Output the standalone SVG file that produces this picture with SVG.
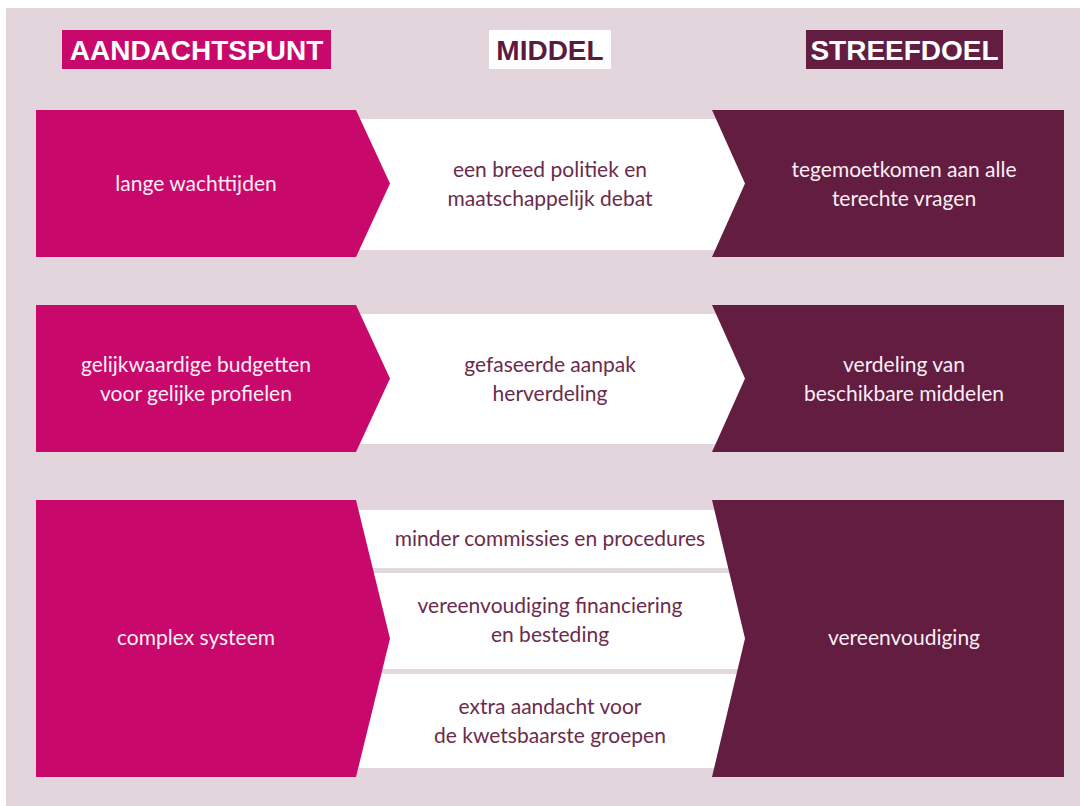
<svg xmlns="http://www.w3.org/2000/svg" width="1080" height="806" viewBox="0 0 1080 806">
<style>
.bg{fill:#e2d6dc}
.pink{fill:#c8086a}
.dark{fill:#621d41}
.band{fill:#ffffff}
.sep{fill:#e3d8de}
.h{font-family:"Liberation Sans",Arial,sans-serif;font-weight:bold;font-size:28px;text-anchor:middle}
.t{font-family:Lato,"Noto Sans",sans-serif;font-size:21px;text-anchor:middle}
.tl{fill:#fbeef5}
.tm{fill:#6b2b4c}
</style>
<rect x="0" y="0" width="1080" height="806" fill="#ffffff"/>
<rect class="bg" x="6" y="8" width="1074" height="798"/>

<g id="header-aandachtspunt">
<rect class="pink" x="62" y="30" width="269" height="39"/>
<text class="h" x="196.5" y="60" fill="#ffffff">AANDACHTSPUNT</text>
</g>
<g id="header-middel">
<rect class="band" x="489" y="30" width="122" height="39"/>
<text class="h" x="550" y="60" fill="#5c1a3d">MIDDEL</text>
</g>
<g id="header-streefdoel">
<rect class="dark" x="806" y="30" width="197" height="39"/>
<text class="h" x="904.5" y="60" fill="#ffffff">STREEFDOEL</text>
</g>

<g id="row1-middel">
<rect class="band" x="350" y="119" width="400" height="131"/>
<text class="t tm" x="550" y="177">een breed politiek en</text>
<text class="t tm" x="550" y="206">maatschappelijk debat</text>
</g>
<g id="row1-aandachtspunt">
<polygon class="pink" points="36,110 356,110 390,183.5 356,257 36,257"/>
<text class="t tl" x="196" y="191">lange wachttijden</text>
</g>
<g id="row1-streefdoel">
<polygon class="dark" points="712,110 1064,110 1064,257 712,257 745,183.5"/>
<text class="t tl" x="904" y="177">tegemoetkomen aan alle</text>
<text class="t tl" x="904" y="206">terechte vragen</text>
</g>

<g id="row2-middel">
<rect class="band" x="350" y="314" width="400" height="130"/>
<text class="t tm" x="550" y="372">gefaseerde aanpak</text>
<text class="t tm" x="550" y="401">herverdeling</text>
</g>
<g id="row2-aandachtspunt">
<polygon class="pink" points="36,305 356,305 390,378.5 356,452 36,452"/>
<text class="t tl" x="196" y="372">gelijkwaardige budgetten</text>
<text class="t tl" x="196" y="401">voor gelijke profielen</text>
</g>
<g id="row2-streefdoel">
<polygon class="dark" points="712,305 1064,305 1064,452 712,452 745,378.5"/>
<text class="t tl" x="904" y="372">verdeling van</text>
<text class="t tl" x="904" y="401">beschikbare middelen</text>
</g>

<g id="row3-middel">
<rect class="band" x="350" y="510" width="400" height="258"/>
<rect class="sep" x="350" y="568" width="400" height="5"/>
<rect class="sep" x="350" y="669" width="400" height="5"/>
<text class="t tm" x="550" y="546">minder commissies en procedures</text>
<text class="t tm" x="550" y="613">vereenvoudiging financiering</text>
<text class="t tm" x="550" y="642">en besteding</text>
<text class="t tm" x="550" y="714">extra aandacht voor</text>
<text class="t tm" x="550" y="743">de kwetsbaarste groepen</text>
</g>
<g id="row3-aandachtspunt">
<polygon class="pink" points="36,500 356,500 390,638.5 356,777 36,777"/>
<text class="t tl" x="196" y="645">complex systeem</text>
</g>
<g id="row3-streefdoel">
<polygon class="dark" points="712,500 1064,500 1064,777 712,777 745,638.5"/>
<text class="t tl" x="904" y="645">vereenvoudiging</text>
</g>

<g id="connectors"/>
</svg>
